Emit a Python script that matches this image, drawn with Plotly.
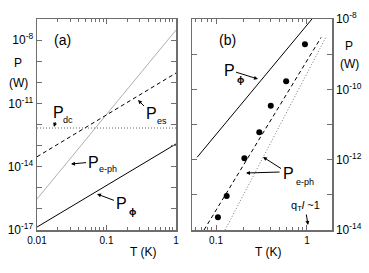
import plotly.graph_objects as go

W, H = 369, 273

# ---------------- data ----------------
# panel (a): straight lines in log-log, end points at T = 0.01 and 1 K
T_a = [0.01, 1.0]
P_phi_a = [1.38e-17, 1.2e-13]
P_eph_a = [2.95e-16, 3.0e-8]
P_es_a = [2.95e-14, 2.75e-10]
P_dc_a = [6.8e-13, 6.8e-13]

# panel (b)
T_phi_b = [0.062, 1.135]
P_phi_b = [1.17e-12, 1.0e-8]
T_dash_b = [0.0738, 1.43]
P_dash_b = [1.0e-14, 3.0e-9]
T_dot_b = [0.1256, 1.61]
P_dot_b = [1.0e-14, 3.0e-9]
T_meas = [0.105, 0.131, 0.205, 0.299, 0.40, 0.59, 0.95]
P_meas = [2.3e-14, 9.3e-14, 1.1e-12, 6.0e-12, 3.4e-11, 1.7e-10, 1.9e-9]

# tick labels
xa_vals = [0.01, 0.1, 1]
xa_text = ["0.01", "0.1", "1"]
ya_exp = [-17, -14, -11, -8]
ya_vals = [10.0 ** e for e in ya_exp]
ya_text = ["10<sup>%d</sup>" % e for e in ya_exp]
ya_minor = [10.0 ** e for e in range(-17, -6)]
xb_vals = [0.1, 1]
xb_text = ["0.1", "1"]
yb_exp = [-14, -12, -10, -8]
yb_vals = [10.0 ** e for e in yb_exp]
yb_text = ["10<sup>%d</sup>" % e for e in yb_exp]
yb_minor = [10.0 ** e for e in range(-14, -7)]
minor_a = [m * 10.0 ** d for d in (-2, -1) for m in range(2, 10)]
minor_b = [0.06, 0.07, 0.08, 0.09] + [m * 0.1 for m in range(2, 10)]

FONT = "Liberation Sans, Arial, sans-serif"
AX = "#6e6e6e"

fig = go.Figure()
# panel (a)
fig.add_trace(go.Scatter(x=T_a, y=P_eph_a, mode="lines", line=dict(color="#999999", width=0.8),
                         xaxis="x", yaxis="y"))
fig.add_trace(go.Scatter(x=T_a, y=P_es_a, mode="lines", line=dict(color="black", width=1, dash="4px,3px"),
                         xaxis="x", yaxis="y"))
fig.add_trace(go.Scatter(x=T_a, y=P_dc_a, mode="lines", line=dict(color="#555", width=0.9, dash="1px,2px"),
                         xaxis="x", yaxis="y"))
fig.add_trace(go.Scatter(x=T_a, y=P_phi_a, mode="lines", line=dict(color="black", width=1),
                         xaxis="x", yaxis="y"))
# panel (b)
fig.add_trace(go.Scatter(x=T_phi_b, y=P_phi_b, mode="lines", line=dict(color="black", width=1),
                         xaxis="x2", yaxis="y2"))
fig.add_trace(go.Scatter(x=T_dash_b, y=P_dash_b, mode="lines", line=dict(color="black", width=1, dash="4px,3px"),
                         xaxis="x2", yaxis="y2"))
fig.add_trace(go.Scatter(x=T_dot_b, y=P_dot_b, mode="lines", line=dict(color="#666", width=0.9, dash="1px,2px"),
                         xaxis="x2", yaxis="y2"))
fig.add_trace(go.Scatter(x=T_meas, y=P_meas, mode="markers", marker=dict(color="black", size=6),
                         xaxis="x2", yaxis="y2"))


def axis(**kw):
    d = dict(type="log", showline=True, linecolor=AX, linewidth=1.5, mirror="allticks",
             ticks="inside", ticklen=5, tickcolor=AX, tickwidth=1, showgrid=False, zeroline=False,
             tickmode="array", automargin=False, tickfont=dict(size=10, color="black", family=FONT))
    d.update(kw)
    return d


def minor_style(vals, ln=3):
    return dict(tickvals=vals, ticks="inside", ticklen=ln, tickcolor=AX, tickwidth=1, showgrid=False)


fig.update_layout(
    width=W, height=H, margin=dict(l=0, r=0, t=0, b=0),
    paper_bgcolor="white", plot_bgcolor="white", showlegend=False,
    font=dict(family=FONT, color="black"),
    xaxis=axis(domain=[37 / W, 176 / W], range=[-2, 0], anchor="y",
               tickvals=xa_vals, ticktext=xa_text, minor=minor_style(minor_a)),
    yaxis=axis(domain=[1 - 230 / H, 1 - 19 / H], range=[-17, -7], anchor="x",
               tickvals=ya_vals, ticktext=ya_text, minor=minor_style(ya_minor, 5),
               tickfont=dict(size=12, color="black", family=FONT)),
    xaxis2=axis(domain=[192 / W, 332 / W], range=[-1.264, 0.275], anchor="y2",
                tickvals=xb_vals, ticktext=xb_text, minor=minor_style(minor_b)),
    yaxis2=axis(domain=[1 - 230 / H, 1 - 19 / H], range=[-14, -8], anchor="x2", side="right",
                tickvals=yb_vals, ticktext=yb_text, minor=minor_style(yb_minor, 5),
                tickfont=dict(size=12, color="black", family=FONT)),
)


def txt(x, y, s, size=12, head=None, family=FONT):
    kw = dict(xref="paper", yref="paper", text=s,
              font=dict(size=size, family=family, color="black"), xanchor="center", yanchor="middle")
    if head is None:
        fig.add_annotation(x=x / W, y=1 - y / H, showarrow=False, **kw)
    else:
        hx, hy = head
        fig.add_annotation(x=hx / W, y=1 - hy / H, showarrow=True, ax=x - hx, ay=y - hy,
                           arrowhead=2, arrowsize=0.8, arrowwidth=1, arrowcolor="black", **kw)


def arrow(tx, ty, hx, hy):
    fig.add_annotation(x=hx / W, y=1 - hy / H, xref="paper", yref="paper", text="", showarrow=True,
                       ax=tx - hx, ay=ty - hy, arrowhead=2, arrowsize=0.8, arrowwidth=1, arrowcolor="black")


PHI_FONT = "Noto Sans, DejaVu Sans, sans-serif"

# panel labels
txt(62, 40, "(a)", 14)
txt(227, 40, "(b)", 14)
# axis titles
txt(18, 63, "P", 12)
txt(18, 83, "(W)", 12)
txt(349, 46, "P", 12)
txt(349, 64, "(W)", 12)
txt(143, 252, "T (K)", 12)
txt(268, 252, "T (K)", 12)

# panel (a) line labels (arrows start from the big "P")
txt(58, 112, "P", 16, head=(54, 127)); txt(68, 120, "dc", 9)
txt(151, 113, "P", 16, head=(138, 100)); txt(162, 121, "es", 9)
txt(93, 162, "P", 16, head=(71, 164)); txt(108, 169, "e-ph", 9)
txt(121, 203, "P", 16, head=(97, 194)); txt(132, 211, "<b>φ</b>", 9, family=PHI_FONT)

# panel (b) line labels
txt(229, 70, "P", 16, head=(258, 79)); txt(240, 79, "<b>φ</b>", 9, family=PHI_FONT)
txt(288, 173, "P", 16, head=(263, 157)); txt(305, 182, "e-ph", 9)
arrow(281, 172, 246, 173)
txt(305, 206, "q<sub>T</sub><i>l</i> ~1", 11, head=(308, 225))

fig.write_html("out.html", config={"displayModeBar": False, "staticPlot": True},
               post_script="document.body.style.margin='0px';document.body.style.overflow='hidden';")
